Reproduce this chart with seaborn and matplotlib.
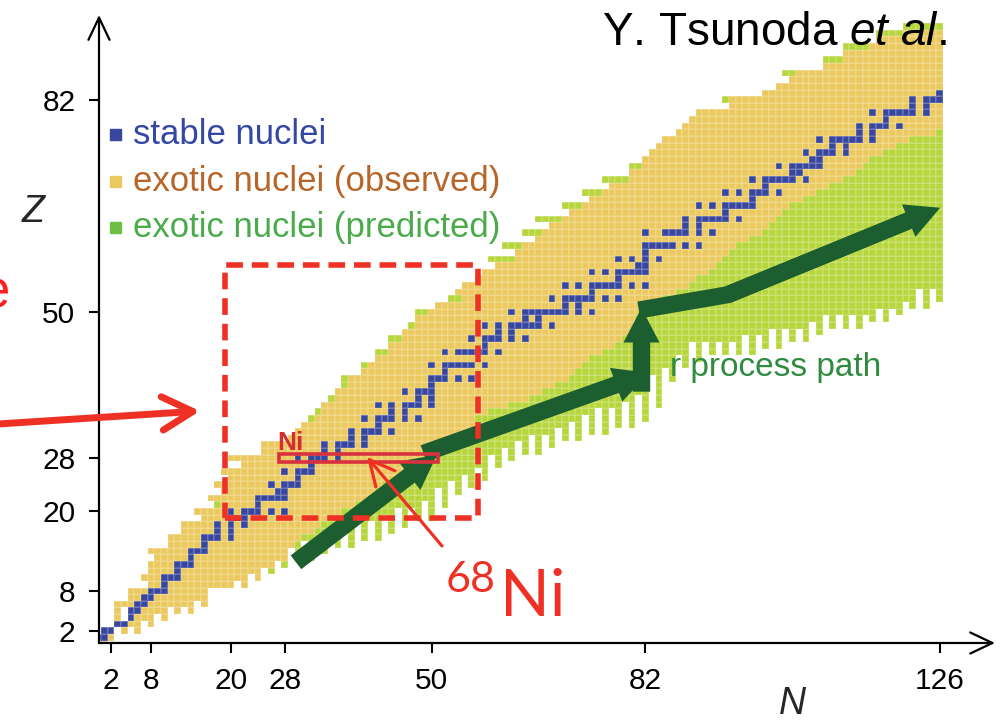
import numpy as np
import pandas as pd
import matplotlib
matplotlib.use("Agg")
import matplotlib.pyplot as plt
from matplotlib.colors import ListedColormap
from matplotlib.patches import Rectangle, FancyArrow, FancyArrowPatch
import seaborn as sns

# ---------------------------------------------------------------- data
# rows of the chart (proton number Z) and columns (neutron number N)
Z_ROWS = list(range(0, 94))
N_COLS = list(range(0, 127))

# first N of the observed isotopes on each Z row
obs_left = [1, 0, 1, 3, 3, 3, 3, 5, 5, 8,
            7, 8, 8, 9, 8, 11, 11, 13, 13, 16,
            15, 19, 17, 19, 18, 20, 19, 22, 20, 25,
            25, 29, 30, 31, 33, 34, 34, 36, 36, 38,
            38, 40, 41, 42, 44, 44, 46, 46, 48, 48,
            50, 51, 55, 54, 55, 57, 58, 60, 63, 63,
            64, 66, 67, 68, 70, 71, 73, 74, 76, 77,
            80, 80, 82, 82, 83, 84, 85, 87, 88, 89,
            90, 95, 95, 100, 102, 104, 105, 109, 112, 112,
            116, 117, 121, 127]

# last N of the observed isotopes on each Z row
obs_right = [1, 2, 6, 8, 10, 14, 16, 16, 16, 22,
             24, 24, 26, 28, 28, 29, 30, 32, 33, 34,
             36, 38, 40, 41, 42, 44, 45, 47, 50, 50,
             52, 53, 55, 56, 56, 58, 61, 64, 66, 68,
             70, 71, 72, 73, 75, 77, 78, 79, 80, 80,
             81, 82, 84, 86, 88, 89, 91, 92, 93, 94,
             95, 97, 99, 100, 101, 102, 103, 105, 107, 109,
             111, 113, 114, 115, 117, 119, 121, 125, 126, 126,
             126, 126, 126, 126, 126, 126, 126, 126, 126, 126,
             126, 126, 126, 126]

# predicted proton-rich isotopes: first N on the rows that have them
pred_left = {21: 18, 34: 32, 35: 33, 37: 35, 39: 37, 40: 37, 42: 40,
             44: 42, 46: 44, 48: 47, 50: 48, 52: 53, 58: 59, 60: 61,
             62: 64, 64: 66, 66: 70, 68: 73, 70: 76, 72: 80, 82: 94,
             86: 103, 88: 109, 90: 112, 92: 117, 93: 121}

# predicted neutron-rich isotopes: lowest Z reached in each N column
pred_bottom_N = list(range(26, 127))
pred_bottom_Z = [11, 14, 12, 15, 13, 16, 13, 16, 14, 17,
                 15, 18, 15, 19, 16, 19, 16, 20, 17, 21,
                 18, 21, 19, 22, 19, 24, 21, 25, 23, 26,
                 24, 27, 25, 29, 27, 30, 28, 31, 29, 32,
                 29, 32, 30, 33, 31, 34, 31, 35, 32, 36,
                 32, 36, 33, 37, 33, 38, 34, 41, 36, 42,
                 40, 44, 42, 46, 43, 46, 44, 46, 44, 46,
                 44, 47, 44, 47, 45, 48, 45, 48, 46, 48,
                 46, 49, 47, 50, 48, 50, 48, 50, 48, 50,
                 49, 51, 49, 51, 50, 52, 51, 54, 51, 54,
                 52]

# particle-unbound gaps inside the light-element rows  (N, Z)
unbound = [(3, 2), (5, 2), (7, 3), (4, 4), (9, 4), (4, 5), (11, 5),
           (13, 5), (15, 6), (21, 9), (23, 10)]

# stable nuclei: Z -> list of N
stable = {
    1: [0, 1], 2: [1, 2], 3: [3, 4], 4: [5], 5: [5, 6], 6: [6, 7], 7: [7, 8],
    8: [8, 9, 10], 9: [10], 10: [10, 11, 12], 11: [12], 12: [12, 13, 14],
    13: [14], 14: [14, 15, 16], 15: [16], 16: [16, 17, 18, 20], 17: [18, 20],
    18: [18, 20, 22], 19: [20, 21, 22], 20: [20, 22, 23, 24, 26, 28],
    21: [24], 22: [24, 25, 26, 27, 28], 23: [27, 28], 24: [26, 28, 29, 30],
    25: [30], 26: [28, 30, 31, 32], 27: [32], 28: [30, 32, 33, 34, 36],
    29: [34, 36], 30: [34, 36, 37, 38, 40], 31: [38, 40],
    32: [38, 40, 41, 42, 44], 33: [42], 34: [40, 42, 43, 44, 46, 48],
    35: [44, 46], 36: [42, 44, 46, 47, 48, 50], 37: [48, 50],
    38: [46, 48, 49, 50], 39: [50], 40: [50, 51, 52, 54, 56], 41: [52],
    42: [50, 52, 53, 54, 55, 56, 58], 44: [52, 54, 55, 56, 57, 58, 60],
    45: [58], 46: [56, 58, 59, 60, 62, 64], 47: [60, 62],
    48: [58, 60, 62, 63, 64, 65, 66, 68], 49: [64, 66],
    50: [62, 64, 65, 66, 67, 68, 69, 70, 72, 74], 51: [70, 72],
    52: [68, 70, 71, 72, 73, 74, 76, 78], 53: [74],
    54: [70, 72, 74, 75, 76, 77, 78, 80, 82], 55: [78],
    56: [74, 76, 78, 79, 80, 81, 82], 57: [81, 82], 58: [78, 80, 82, 84],
    59: [82], 60: [82, 83, 84, 85, 86, 88, 90],
    62: [82, 85, 86, 87, 88, 90, 92], 63: [88, 90],
    64: [88, 90, 91, 92, 93, 94, 96], 65: [94],
    66: [90, 92, 94, 95, 96, 97, 98], 67: [98],
    68: [94, 96, 98, 99, 100, 102], 69: [100],
    70: [98, 100, 101, 102, 103, 104, 106], 71: [104, 105],
    72: [102, 104, 105, 106, 107, 108], 73: [107, 108],
    74: [106, 108, 109, 110, 112], 75: [110, 112],
    76: [108, 110, 111, 112, 113, 114, 116], 77: [114, 116],
    78: [114, 116, 117, 118, 120], 79: [118],
    80: [116, 118, 119, 120, 121, 122, 124], 81: [122, 124],
    82: [122, 124, 125, 126], 83: [126],
}

# magic numbers on the axes
N_TICKS = [2, 8, 20, 28, 50, 82, 126]
Z_TICKS = [2, 8, 20, 28, 50, 82]

# r-process path drawn as arrows: (N, Z) tail -> head
r_arrows = [((29.7, 12.3), (50.8, 28.5)),
            ((48.8, 28.7), (82.5, 40.8)),
            ((81.4, 38.0), (81.4, 50.6))]
r_last_leg = [(81.0, 50.3), (94.3, 52.6), (126.1, 65.7)]

# ---------------------------------------------------------------- style
C_OBS = "#ecc95e"
C_PRED = "#b6d63c"
C_STAB = "#38479e"
C_PATH = "#1c5e30"
C_RED = "#ee3124"

sns.set_theme(style="white")
plt.rcParams["font.family"] = ["Liberation Sans", "DejaVu Sans"]
plt.rcParams["mathtext.fontset"] = "custom"
plt.rcParams["mathtext.rm"] = "Liberation Sans"
plt.rcParams["mathtext.it"] = "Liberation Sans:italic"

W, H = 1001, 722
fig = plt.figure(figsize=(W / 100, H / 100), dpi=100)
ax = fig.add_axes([99 / W, (H - 643) / H, 896 / W, 628 / H])


def fx(x):
    return x / W


def fy(y):
    return 1 - y / H


def cell(n, z):
    """centre of nucleus (N, Z) in heatmap data coordinates"""
    return n + 0.5, z + 0.5


# ---------------------------------------------------------------- chart cells
OBS, PRED, STAB = 0, 1, 2
grid = np.full((len(Z_ROWS), len(N_COLS)), np.nan)
for z in Z_ROWS:
    grid[z, pred_left.get(z, obs_left[z]):obs_left[z]] = PRED
    grid[z, obs_left[z]:obs_right[z] + 1] = OBS
for n, zb in zip(pred_bottom_N, pred_bottom_Z):
    for z in range(zb, len(Z_ROWS)):
        if n > obs_right[z]:
            grid[z, n] = PRED
for n, z in unbound:
    grid[z, n] = np.nan
for z, ns in stable.items():
    grid[z, ns] = STAB
chart = pd.DataFrame(grid, index=Z_ROWS, columns=N_COLS)

sns.heatmap(chart, ax=ax, cmap=ListedColormap([C_OBS, C_PRED, C_STAB]),
            vmin=-0.5, vmax=2.5, cbar=False, linewidths=0.2,
            linecolor=(1, 1, 1, 0.14), xticklabels=False, yticklabels=False)
ax.set_xlim(0.724, 134.8)
ax.set_ylim(0.65, 95.23)

# axes drawn as arrows
for end in [(0, 1), (1, 0)]:
    ax.annotate("", xy=end, xytext=(0, 0), xycoords="axes fraction",
                arrowprops=dict(arrowstyle="->,head_length=0.8,head_width=0.38",
                                lw=1.6, color="black", shrinkA=0, shrinkB=0,
                                mutation_scale=20),
                annotation_clip=False, zorder=6)

ax.set_xticks([n + 0.5 for n in N_TICKS])
ax.set_xticklabels([str(n) for n in N_TICKS])
ax.set_yticks([z + 0.5 for z in Z_TICKS])
ax.set_yticklabels([str(z) for z in Z_TICKS])
ax.tick_params(axis="both", which="major", length=7, width=1.5,
               direction="out", color="black", labelsize=21.5,
               bottom=True, left=True, labelcolor="black")
ax.tick_params(axis="x", pad=10)
ax.tick_params(axis="y", pad=10)
for lab in ax.get_yticklabels():
    lab.set_rotation(0)

# ---------------------------------------------------------------- r-process path
for (t, h) in r_arrows:
    x0, y0 = cell(*t)
    x1, y1 = cell(*h)
    ax.add_patch(FancyArrow(x0, y0, x1 - x0, y1 - y0, width=2.6,
                            head_width=5.4, head_length=5.2,
                            length_includes_head=True, color=C_PATH,
                            lw=0, zorder=4))
p0, p1, p2 = [cell(*p) for p in r_last_leg]
d = np.subtract(p2, p1)
base = np.add(p1, d * (1 - 5.0 / np.hypot(*d)))
ax.plot([p0[0], p1[0], base[0]], [p0[1], p1[1], base[1]], color=C_PATH,
        lw=12.3, solid_capstyle="butt", solid_joinstyle="miter", zorder=4)
ax.add_patch(FancyArrow(p1[0], p1[1], d[0], d[1], width=2.6,
                        head_width=5.3, head_length=5.1,
                        length_includes_head=True, color=C_PATH, lw=0,
                        zorder=4))

# ---------------------------------------------------------------- red markings
bx0, by0 = cell(19.15, 19.0)
bx1, by1 = cell(56.9, 57.1)
ax.add_patch(Rectangle((bx0, by0), bx1 - bx0, by1 - by0, fill=False,
                       edgecolor=C_RED, lw=4, linestyle=(0, (3, 1.6)),
                       joinstyle="round", zorder=5))
nx0, ny0 = cell(27.1, 27.4)
nx1, ny1 = cell(51.0, 28.55)
ax.add_patch(Rectangle((nx0, ny0), nx1 - nx0, ny1 - ny0, fill=False,
                       edgecolor="#d9313d", lw=2.6, zorder=5))
fig.text(fx(277), fy(450), "Ni", color="#d42f2f", fontsize=19,
         fontweight="bold", ha="left", va="baseline")

# 68Ni pointer
fig.patches.append(FancyArrowPatch(
    (442, H - 546), (367, H - 457), transform=None,
    arrowstyle="->,head_length=0.9,head_width=0.45", mutation_scale=20,
    lw=2.3, color=C_RED, shrinkA=0, shrinkB=0, zorder=7))
fig.text(fx(446), fy(592), "68", color=C_RED, fontsize=31, family="Lato",
         ha="left", va="baseline")
fig.text(fx(500), fy(616), "Ni", color=C_RED, fontsize=47, family="Lato",
         ha="left", va="baseline")

# arrow coming in from the left
fig.patches.append(FancyArrowPatch(
    (-2, H - 424), (200, H - 411), transform=None,
    arrowstyle="->,head_length=1.1,head_width=0.6", mutation_scale=20,
    lw=5, color=C_RED, shrinkA=0, shrinkB=0, zorder=7))
fig.text(fx(10), fy(308), "e", color="#ff1e1e", fontsize=38,
         ha="right", va="baseline")

# ---------------------------------------------------------------- text
fig.text(fx(670), fy(376), "r process path", color="#2e8b3f", fontsize=24,
         ha="left", va="baseline", zorder=8)
fig.text(fx(947), fy(45), r"Y. Tsunoda $\mathit{et\ al}$.", fontsize=33,
         ha="right", va="baseline", color="black")
fig.text(fx(33), fy(212), "Z", fontsize=27, style="italic",
         ha="center", va="center")
fig.text(fx(792), fy(704), "N", fontsize=27, style="italic",
         ha="center", va="center")

legend_rows = [("stable nuclei", C_STAB, "#3447a3", 144),
               ("exotic nuclei (observed)", C_OBS, "#b8652a", 191),
               ("exotic nuclei (predicted)", "#6cbf44", "#4aab4a", 237)]
for label, sq, tc, base_y in legend_rows:
    fig.patches.append(Rectangle((fx(110), fy(base_y - 4)), 11 / W, 11 / H,
                                 transform=fig.transFigure, color=sq))
    fig.text(fx(133), fy(base_y), label, color=tc, fontsize=25,
             ha="left", va="baseline")

fig.savefig("out.png", dpi=100)
